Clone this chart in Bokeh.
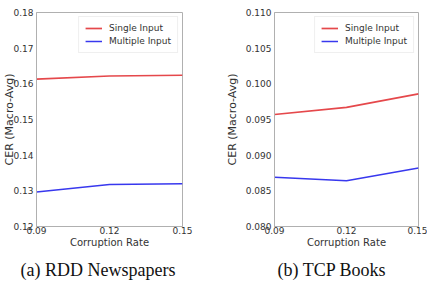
from bokeh.plotting import figure
from bokeh.layouts import row
from bokeh.models import FixedTicker, NumeralTickFormatter, Range1d, Title, Legend, LegendItem
from bokeh.embed import file_html
from bokeh.resources import INLINE

rates = [0.09, 0.12, 0.15]
rdd_single = [0.1613, 0.1622, 0.1624]
rdd_multiple = [0.1297, 0.1318, 0.1320]
tcp_single = [0.0957, 0.0967, 0.0986]
tcp_multiple = [0.0869, 0.0864, 0.0882]
series_names = ["Single Input", "Multiple Input"]
rdd_yticks = [0.12, 0.13, 0.14, 0.15, 0.16, 0.17, 0.18]
tcp_yticks = [0.080, 0.085, 0.090, 0.095, 0.100, 0.105, 0.110]
captions = ["(a) RDD Newspapers", "(b) TCP Books"]
x_title = "Corruption Rate"
y_title = "CER (Macro-Avg)"

RED = "#e5484b"
BLUE = "#3838ee"
FONT = "DejaVu Sans"


def make(single, multiple, yticks, yfmt, caption, width, bl, br, cap_offset, ylab_stand):
    p = figure(width=width, height=286, output_backend="svg", toolbar_location=None,
               x_range=Range1d(rates[0], rates[-1]), y_range=Range1d(yticks[0], yticks[-1]),
               min_border_left=bl, min_border_right=br, min_border_top=12, min_border_bottom=0)
    p.xgrid.visible = False
    p.ygrid.visible = False
    p.outline_line_color = "#b0b0b0"
    r1 = p.line(rates, single, line_color=RED, line_width=1.7)
    r2 = p.line(rates, multiple, line_color=BLUE, line_width=1.5)
    for ax in (p.xaxis[0], p.yaxis[0]):
        ax.major_tick_line_color = None
        ax.minor_tick_line_color = None
        ax.major_tick_out = 0
        ax.major_tick_in = 0
        ax.minor_tick_out = 0
        ax.minor_tick_in = 0
        ax.axis_line_color = "#b0b0b0"
        ax.major_label_text_font = FONT
        ax.major_label_text_font_size = "9px"
        ax.major_label_text_color = "#333333"
        ax.axis_label_text_font = FONT
        ax.axis_label_text_font_style = "normal"
        ax.axis_label_text_color = "#333333"
    p.xaxis.axis_label_text_font_size = "10px"
    p.yaxis.axis_label_text_font_size = "11px"
    p.xaxis.major_label_standoff = 0
    p.xaxis.axis_label_standoff = 0
    p.yaxis.major_label_standoff = 3
    p.yaxis.axis_label_standoff = ylab_stand
    p.xaxis.ticker = FixedTicker(ticks=rates)
    p.xaxis.formatter = NumeralTickFormatter(format="0.00")
    p.yaxis.ticker = FixedTicker(ticks=yticks)
    p.yaxis.formatter = NumeralTickFormatter(format=yfmt)
    p.xaxis.axis_label = x_title
    p.yaxis.axis_label = y_title
    leg = Legend(items=[LegendItem(label=series_names[0], renderers=[r1]),
                        LegendItem(label=series_names[1], renderers=[r2])],
                 location="top_right", label_text_font=FONT, label_text_font_size="9px",
                 label_text_color="#333333", glyph_width=17, glyph_height=10,
                 label_height=10, spacing=3, padding=6, margin=4,
                 border_line_color="#e0e0e0", label_standoff=7)
    p.add_layout(leg)
    p.add_layout(Title(text=caption, align="left", offset=cap_offset,
                       text_font="Liberation Serif", text_font_size="18px",
                       text_font_style="normal", text_color="#111111", standoff=14), "below")
    return p


p1 = make(rdd_single, rdd_multiple, rdd_yticks, "0.00", captions[0], 214, 33, 32, -16, -6)
p2 = make(tcp_single, tcp_multiple, tcp_yticks, "0.000", captions[1], 213, 60, 9, 3, 4)
layout = row(p1, p2, spacing=0)

open("out.html", "w").write(file_html(layout, INLINE))
